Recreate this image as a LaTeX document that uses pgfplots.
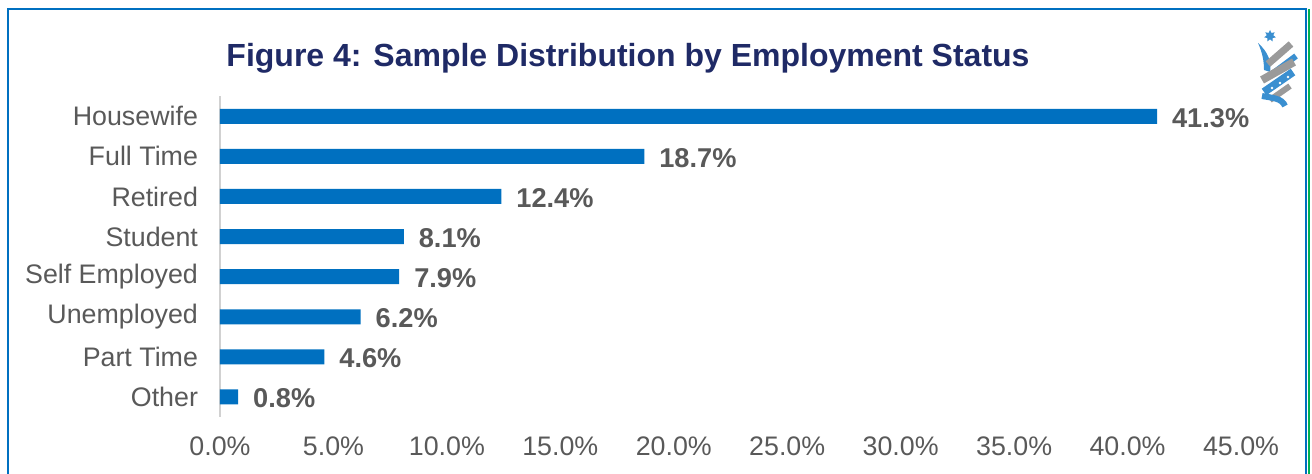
\documentclass[border=0pt]{standalone}
\usepackage{pgfplots}
\pgfplotsset{compat=1.18}
\usetikzlibrary{shapes.geometric}
\usepackage{fontspec}
\setmainfont{Liberation Sans}
\definecolor{barblue}{HTML}{0070C0}
\definecolor{titlenavy}{HTML}{1F2A66}
\definecolor{labgray}{HTML}{595959}
\definecolor{frameblue}{HTML}{0070C0}
\definecolor{framegreen}{HTML}{00B050}
\definecolor{logoblue}{HTML}{3A8FD0}
\definecolor{logogray}{HTML}{9A9A9A}
\begin{document}
\begin{tikzpicture}
\begin{scope}[x=0.5pt,y=-0.5pt]
\useasboundingbox (0,0) rectangle (1312,474);
\draw[line width=1pt, frameblue] (8,480) -- (8,9) -- (1306,9) -- (1306,480);
\draw[line width=1pt, framegreen] (1308.5,9) -- (1308.5,480);
\node[font=\bfseries\fontsize{16}{19}\selectfont, text=titlenavy] at (628,58) {Figure 4: Sample Distribution by Employment Status};
% logo approximation
\node[star, star points=7, star point ratio=1.8, fill=logoblue, inner sep=0pt, minimum size=6pt] at (1270,36) {};
\fill[logoblue] (1258,43) .. controls (1268,52) and (1272,62) .. (1270,72) -- (1264,70) .. controls (1264,60) and (1262,52) .. (1258,43) -- cycle;
\draw[logogray, line width=3.5pt] (1268,64) -- (1291,44);
\draw[logoblue, line width=3pt] (1272,74) -- (1296,56);
\draw[logogray, line width=4pt] (1262,80) -- (1294,62);
\draw[logoblue, line width=4pt] (1264,92) -- (1293,72);
\fill[white] (1272,88) circle (1.3) (1280,83) circle (1.3) (1288,77) circle (1.3);
\draw[logogray, line width=3pt] (1270,100) -- (1290,86);
\draw[logoblue, line width=3pt] (1262,96) .. controls (1272,98) and (1282,98) .. (1285,106);
\end{scope}
\begin{axis}[
  at={(110pt,-208.5pt)}, anchor=south west, scale only axis,
  width=510.5pt, height=160.4pt,
  xmin=0, xmax=45, ymin=-0.5, ymax=7.5,
  xbar, bar width=7.5pt,
  axis lines*=left, axis line style={-},
  x axis line style={draw=none},
  y axis line style={draw=black!18, line width=0.9pt},
  major tick length=0pt,
  xtick={0,5,...,45},
  ytick={0,...,7},
  yticklabels={Other,Part Time,Unemployed,Self Employed,Student,Retired,Full Time,Housewife},
  /pgf/number format/assume math mode=true,
  xticklabel={\pgfmathprintnumber[fixed,fixed zerofill,precision=1]{\tick}\%},
  tick label style={font=\fontsize{13.4}{16}\selectfont, text=labgray},
  xticklabel style={yshift=-6.5pt},
  yticklabel style={xshift=-7.5pt},
  point meta=x,
  nodes near coords={\pgfmathprintnumber[fixed,fixed zerofill,precision=1]{\pgfplotspointmeta}\%},
  nodes near coords style={font=\bfseries\fontsize{13.6}{16}\selectfont, text=labgray, anchor=west, xshift=4pt, yshift=-0.8pt},
  clip=false,
]
\addplot[fill=barblue, draw=none] coordinates {
 (0.8,0) (4.6,1) (6.2,2) (7.9,3) (8.1,4) (12.4,5) (18.7,6) (41.3,7)
};
\end{axis}
\end{tikzpicture}
\end{document}
